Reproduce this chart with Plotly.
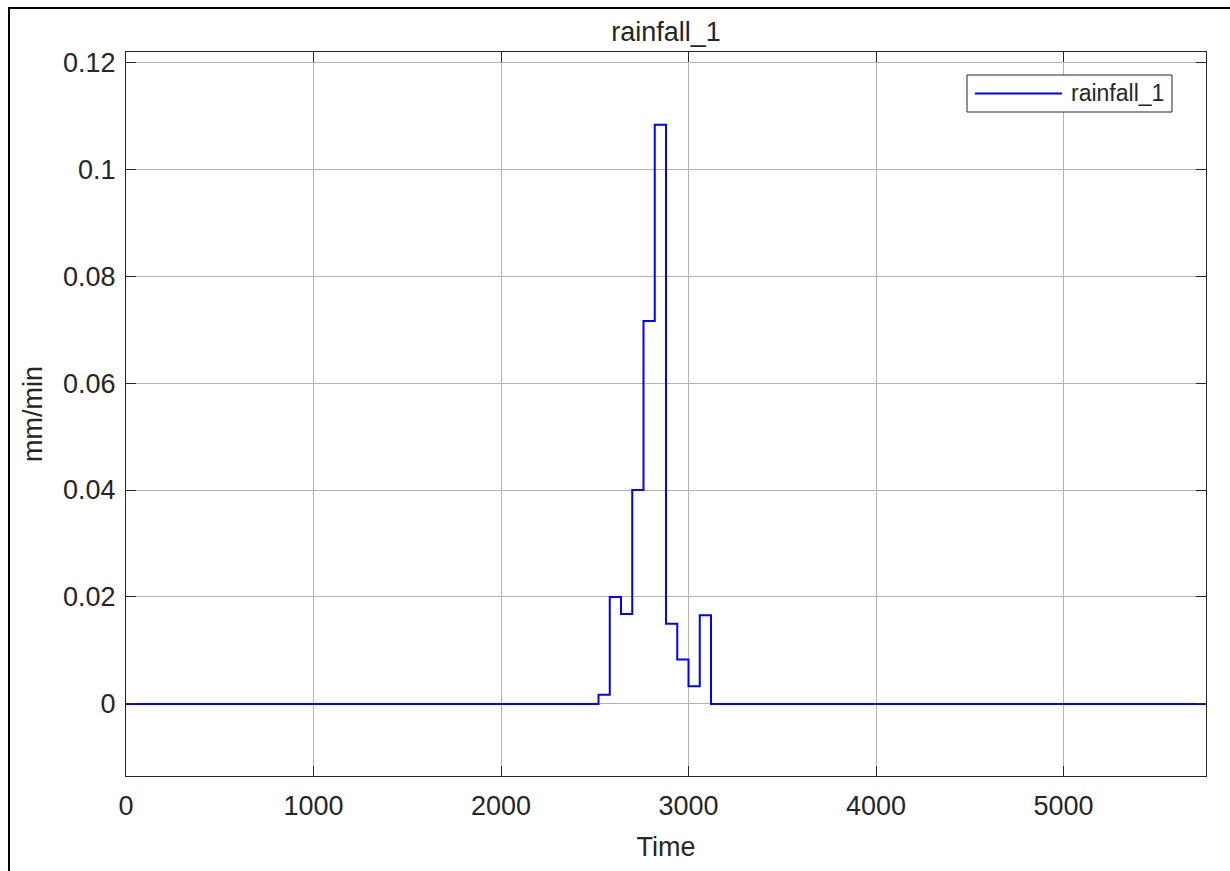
import plotly.graph_objects as go

# Rainfall step series (time in minutes, intensity in mm/min)
times = [0, 2520, 2580, 2640, 2700, 2760, 2820, 2880, 2940, 3000, 3060, 3120, 5760]
rain = [0, 0.0017, 0.0200, 0.0168, 0.0400, 0.0716, 0.1083, 0.0150, 0.0083, 0.0033, 0.0166, 0, 0]

x_ticks = [0, 1000, 2000, 3000, 4000, 5000]
y_ticks = [0, 0.02, 0.04, 0.06, 0.08, 0.1, 0.12]
y_tick_text = ["0", "0.02", "0.04", "0.06", "0.08", "0.1", "0.12"]

series_name = "rainfall_1"
FONT = "Liberation Sans, Arial, sans-serif"
TXT = "#262626"

fig = go.Figure()
fig.add_trace(go.Scatter(
    x=times, y=rain, mode="lines", line_shape="hv",
    line=dict(color="#0000ff", width=2), name=series_name, showlegend=False,
))

axis_common = dict(
    showgrid=True, gridcolor="#b4b4b4", gridwidth=1,
    showline=True, linecolor=TXT, linewidth=1, mirror="ticks",
    ticks="inside", ticklen=10, tickcolor=TXT, tickwidth=1,
    zeroline=False, tickfont=dict(size=27, color=TXT, family=FONT),
)

fig.update_layout(
    width=1230, height=871,
    margin=dict(l=126, r=24, t=52, b=95),
    paper_bgcolor="white", plot_bgcolor="white",
    font=dict(family=FONT, color=TXT),
    title=dict(text=series_name, x=0.5, xref="paper", xanchor="center",
               y=1 - 32 / 871, yref="container", yanchor="middle",
               font=dict(size=27, color=TXT, family=FONT)),
    xaxis=dict(range=[0, 5760], tickvals=x_ticks, ticklabelstandoff=6,
               title=dict(text="Time", font=dict(size=27, color=TXT), standoff=16),
               **axis_common),
    yaxis=dict(range=[-0.01347, 0.1219], tickvals=y_ticks, ticktext=y_tick_text,
               ticklabelstandoff=4,
               title=dict(text="mm/min", font=dict(size=27, color=TXT), standoff=12),
               **axis_common),
)

# Figure frame (top and left edges visible inside the canvas)
px_x = lambda p: (p - 126) / 1080
px_y = lambda p: (776 - p) / 724
fig.add_shape(type="rect", xref="paper", yref="paper",
              x0=px_x(9), x1=px_x(1240), y0=px_y(880), y1=px_y(8),
              line=dict(color="black", width=2), fillcolor="rgba(0,0,0,0)", layer="above")

# Legend box drawn in the upper right of the axes
fig.add_shape(type="rect", xref="paper", yref="paper",
              x0=px_x(967), x1=px_x(1172), y0=px_y(112), y1=px_y(75),
              line=dict(color=TXT, width=1), fillcolor="white", layer="above")
fig.add_shape(type="line", xref="paper", yref="paper",
              x0=px_x(975), x1=px_x(1062), y0=px_y(93.5), y1=px_y(93.5),
              line=dict(color="#0000ff", width=2), layer="above")
fig.add_annotation(text=series_name, xref="paper", yref="paper",
                   x=px_x(1069), y=px_y(93.5), xanchor="left", yanchor="middle",
                   showarrow=False, font=dict(size=23, color=TXT, family=FONT))

fig.write_html("out.html")
